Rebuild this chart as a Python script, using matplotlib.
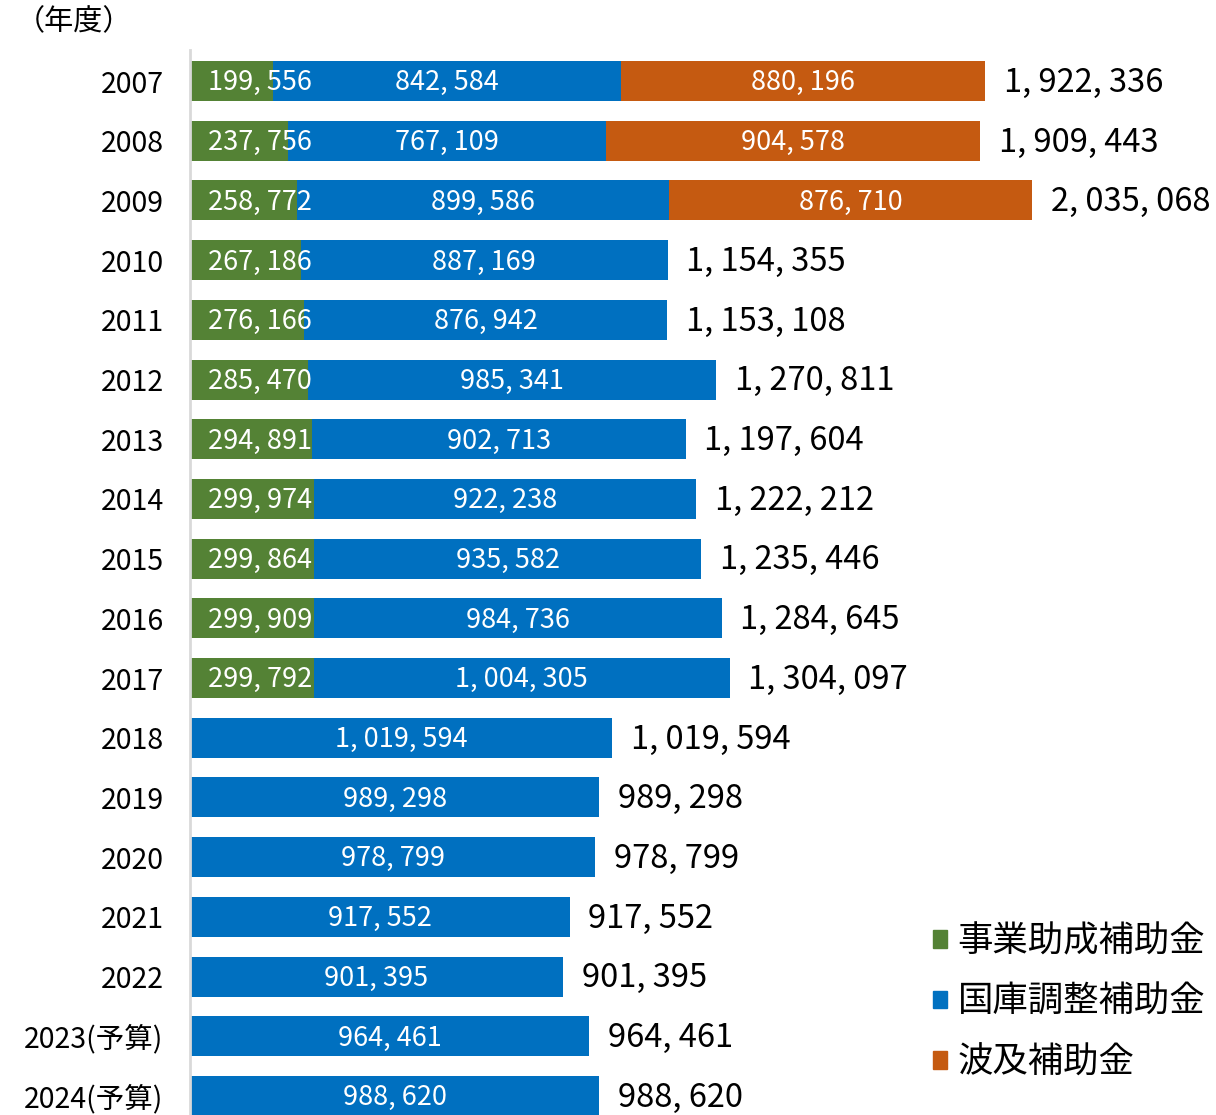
import matplotlib.pyplot as plt
from matplotlib.patches import Patch

plt.rcParams['font.family'] = ['Noto Sans CJK JP', 'DejaVu Sans']

# data (units: as shown)
years = ["2007", "2008", "2009", "2010", "2011", "2012", "2013", "2014", "2015",
         "2016", "2017", "2018", "2019", "2020", "2021", "2022", "2023(予算)", "2024(予算)"]
jigyo = [199556, 237756, 258772, 267186, 276166, 285470, 294891, 299974, 299864,
         299909, 299792, 0, 0, 0, 0, 0, 0, 0]
kokko = [842584, 767109, 899586, 887169, 876942, 985341, 902713, 922238, 935582,
         984736, 1004305, 1019594, 989298, 978799, 917552, 901395, 964461, 988620]
hakyu = [880196, 904578, 876710, 0, 0, 0, 0, 0, 0,
         0, 0, 0, 0, 0, 0, 0, 0, 0]
totals = [a + b + c for a, b, c in zip(jigyo, kokko, hakyu)]

green = "#548235"
blue = "#0070c0"
orange = "#c55a11"


def fmt(v):
    return f"{v:,}".replace(",", ", ")


fig = plt.figure(figsize=(12.16, 11.15), dpi=100)
ax = fig.add_axes([190 / 1216, 0, 1 - 190 / 1216, 1 - 50 / 1115])

ypos = list(range(len(years)))
h = 0.67
ax.barh(ypos, jigyo, height=h, color=green)
ax.barh(ypos, kokko, height=h, left=jigyo, color=blue)
left2 = [a + b for a, b in zip(jigyo, kokko)]
ax.barh(ypos, hakyu, height=h, left=left2, color=orange)

# value labels inside the bars and totals at the bar ends
for i in ypos:
    if jigyo[i] > 0:
        ax.annotate(fmt(jigyo[i]), xy=(0, i + 0.03), xytext=(13, 0), textcoords="offset points",
                    ha="left", va="center", color="white", fontsize=19.5)
    ax.text(jigyo[i] + kokko[i] / 2, i + 0.03, fmt(kokko[i]), ha="center", va="center",
            color="white", fontsize=19.5)
    if hakyu[i] > 0:
        ax.text(left2[i] + hakyu[i] / 2, i + 0.03, fmt(hakyu[i]), ha="center", va="center",
                color="white", fontsize=19.5)
    ax.annotate(fmt(totals[i]), xy=(totals[i], i + 0.03), xytext=(13.5, 0), textcoords="offset points",
                ha="left", va="center", color="black", fontsize=23.5)

ax.set_xlim(0, 1026 / 0.4138e-3)
ax.set_ylim(17.32, -0.52)
ax.set_yticks(ypos)
ax.set_yticklabels(years, fontsize=20.5)
ax.tick_params(axis="y", length=0, pad=19)
ax.set_xticks([])
for s in ["top", "right", "bottom"]:
    ax.spines[s].set_visible(False)
ax.spines["left"].set_color("#d9d9d9")
ax.spines["left"].set_linewidth(2)

fig.text(16 / 1216, 1 - 22 / 1115, "（年度）", fontsize=21, va="center", ha="left")

handles = [Patch(color=green), Patch(color=blue), Patch(color=orange)]
leg = ax.legend(handles, ["事業助成補助金", "国庫調整補助金", "波及補助金"],
                loc="lower right", bbox_to_anchor=(1.0, 0.022), frameon=False,
                borderaxespad=0, borderpad=0.3,
                handlelength=0.4, handleheight=0.4, handletextpad=0.3,
                labelspacing=0.7, prop={"size": 25.5})

fig.savefig("out.png", dpi=100)
